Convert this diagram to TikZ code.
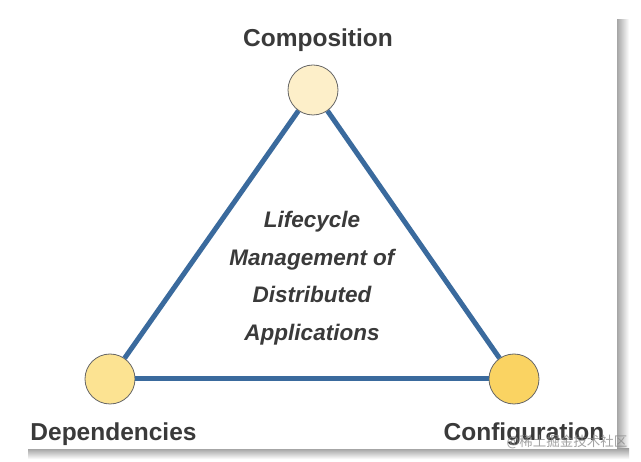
\documentclass[tikz,border=0pt]{standalone}
\usepackage{fontspec}
\setmainfont{Liberation Sans}
\newfontfamily\cjk{Noto Sans CJK SC}
\usetikzlibrary{shapes.geometric}

\definecolor{edgeblue}{RGB}{58,106,157}
\definecolor{labelgray}{RGB}{58,58,58}
\definecolor{paleyellow}{RGB}{253,239,201}
\definecolor{midyellow}{RGB}{252,227,146}
\definecolor{deepyellow}{RGB}{250,211,98}

\begin{document}
\begin{tikzpicture}[x=1pt,y=-1pt]
\tikzstyle{vertex} = [circle, minimum size=50pt, inner sep=0pt, draw=black!60, line width=0.8pt]
\tikzstyle{link} = [line width=5pt, draw=edgeblue]
\tikzstyle{corner} = [anchor=base, font=\fontsize{24.5}{29}\selectfont\bfseries, text=labelgray]
\tikzstyle{title} = [align=center, font=\fontsize{22.5}{37.5}\selectfont\bfseries\itshape, text=labelgray]

\useasboundingbox (0,0) rectangle (641,462);
\fill [white] (0,0) rectangle (641,462);

% page shadow
\shade [left color=black!35, right color=white] (617,20) rectangle (629,458);
\shade [top color=black!35, bottom color=white] (28,449) rectangle (629,459);
\fill [white] (0,0) rectangle (617,449);

\node [vertex, fill=paleyellow] (v1) at (313,90) {};
\node [vertex, fill=midyellow] (v2) at (110,379) {};
\node [vertex, fill=deepyellow] (v3) at (514,379) {};
\draw [link] (v1) edge (v2);
\draw [link] (v2) edge (v3);
\draw [link] (v3) edge (v1);

\node [corner] (v4) at (318,47) {Composition};
\node [corner] (v5) at (113.5,441) {Dependencies};
\node [corner] (v6) at (524,441) {Configuration};

\node [title] (v7) at (312,278) {Lifecycle\\Management of\\Distributed\\Applications};

% watermark
\node [font=\cjk\fontsize{13.5}{16}\selectfont, text=black!45, opacity=0.8] (v8) at (567,442) {@稀土掘金技术社区};
\end{tikzpicture}
\end{document}
